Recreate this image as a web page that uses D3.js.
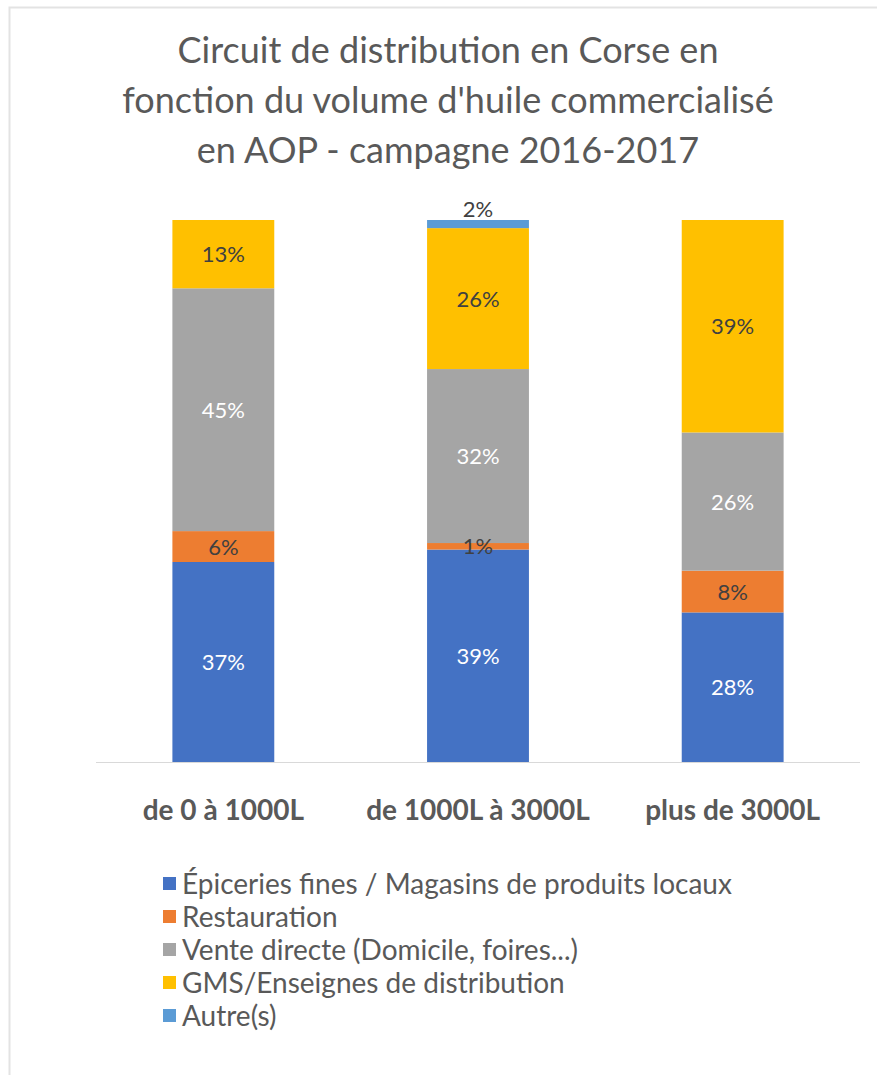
<!DOCTYPE html>
<html>
<head>
<meta charset="utf-8">
<script src="https://cdn.jsdelivr.net/npm/d3@7"></script>
<style>
  body { margin: 0; background: #fff; }
  svg { display: block; font-family: Lato, "Open Sans", sans-serif; }
</style>
</head>
<body>
<svg id="chart" width="877" height="1075"></svg>
<script>
// categories (volume ranges)
const categories = ["de 0 à 1000L", "de 1000L à 3000L", "plus de 3000L"]

// series, in stacking order (bottom to top)
const seriesNames = [
  "Épiceries fines / Magasins de produits locaux",
  "Restauration",
  "Vente directe (Domicile, foires...)",
  "GMS/Enseignes de distribution",
  "Autre(s)"
]
const seriesColors = ["#4472C4", "#ED7D31", "#A5A5A5", "#FFC000", "#5B9BD5"]

// share of volume per series, one value per category
const epiceries = [36.9, 39.2, 27.6]
const restauration = [5.7, 1.2, 7.7]
const venteDirecte = [44.8, 32.1, 25.5]
const gms = [12.6, 26.0, 39.2]
const autres = [0, 1.5, 0]

const titleLines = [
  "Circuit de distribution en Corse en",
  "fonction du volume d'huile commercialisé",
  "en AOP - campagne 2016-2017"
]

const seriesValues = [epiceries, restauration, venteDirecte, gms, autres]
const keys = seriesNames
const table = categories.map((c, i) => {
  const row = { cat: c }
  keys.forEach((k, j) => (row[k] = seriesValues[j][i]))
  return row
})

const svg = d3.select("#chart")

// faint outer frame of the chart object
svg.append("path")
  .attr("d", "M9.5,1075 V7.5 H877")
  .style("fill", "none")
  .style("stroke", "#e3e3e3")
  .style("stroke-width", 2)

const plot = { left: 96, right: 860, top: 220, bottom: 762 }

const x = d3.scaleBand()
  .domain(categories)
  .range([plot.left, plot.right])
  .paddingInner(0.6)
  .paddingOuter(0.3)

const y = d3.scaleLinear()
  .domain([0, 100])
  .range([plot.bottom, plot.top])

const color = d3.scaleOrdinal().domain(keys).range(seriesColors)

// 100% stacked: normalise each column
const stacked = d3.stack().keys(keys).offset(d3.stackOffsetExpand)(table)

// title
svg.append("g")
  .selectAll("text")
  .data(titleLines)
  .enter()
  .append("text")
  .attr("x", 448)
  .attr("y", (d, i) => 63 + i * 50)
  .attr("text-anchor", "middle")
  .style("font-size", "36px")
  .style("fill", "#595959")
  .text((d) => d)

// bars
const layer = svg.append("g")
  .selectAll("g")
  .data(stacked)
  .enter()
  .append("g")
  .style("fill", (d) => color(d.key))

layer.selectAll("rect")
  .data((d) => d)
  .enter()
  .append("rect")
  .attr("x", (d) => x(d.data.cat))
  .attr("width", x.bandwidth())
  .attr("y", (d) => y(d[1] * 100))
  .attr("height", (d) => y(d[0] * 100) - y(d[1] * 100))

// data labels
const lightText = new Set([keys[0], keys[2]])
stacked.forEach((s) => {
  s.forEach((d) => {
    const v = d.data[s.key]
    if (!v) return
    const y0 = y(d[0] * 100), y1 = y(d[1] * 100)
    // tiny top segment: label sits just above the bar
    const ty = s.key === keys[4] ? y1 - 3 : (y0 + y1) / 2 + 8
    svg.append("text")
      .attr("x", x(d.data.cat) + x.bandwidth() / 2)
      .attr("y", ty)
      .attr("text-anchor", "middle")
      .style("font-size", "22px")
      .style("fill", lightText.has(s.key) ? "#ffffff" : "#404040")
      .text(Math.round(v) + "%")
  })
})

// baseline
svg.append("line")
  .attr("x1", plot.left)
  .attr("x2", plot.right)
  .attr("y1", plot.bottom + 0.5)
  .attr("y2", plot.bottom + 0.5)
  .style("stroke", "#d9d9d9")
  .style("stroke-width", 1)

// category axis
const xAxis = svg.append("g")
  .attr("transform", `translate(0,${plot.bottom})`)
  .call(d3.axisBottom(x).tickSize(0).tickPadding(38))
xAxis.select(".domain").remove()
xAxis.selectAll("text")
  .style("font-family", "Lato, sans-serif")
  .style("font-size", "28px")
  .style("font-weight", "bold")
  .style("fill", "#595959")

// legend
const legend = svg.append("g")
  .selectAll("g")
  .data(keys)
  .enter()
  .append("g")
  .attr("transform", (d, i) => `translate(163,${877 + i * 33})`)

legend.append("rect")
  .attr("width", 13)
  .attr("height", 13)
  .style("fill", (d) => color(d))

legend.append("text")
  .attr("x", 19)
  .attr("y", 17)
  .style("font-size", "28px")
  .style("fill", "#595959")
  .text((d) => d)
</script>
</body>
</html>
